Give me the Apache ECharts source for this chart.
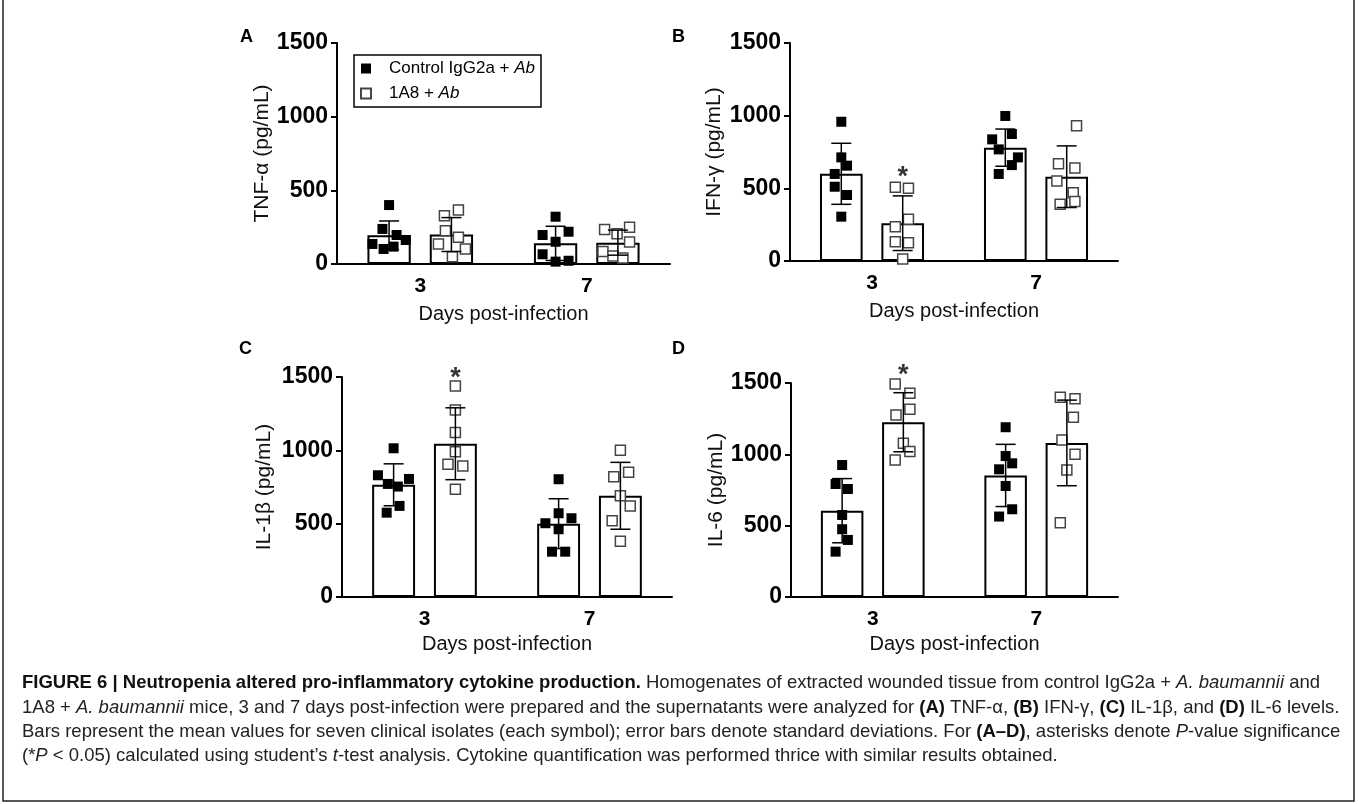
<!DOCTYPE html>
<html>
<head>
<meta charset="utf-8">
<script src="https://cdn.jsdelivr.net/npm/echarts@6/dist/echarts.min.js"></script>
<style>
html,body{margin:0;padding:0;background:#fff;}
#chart{width:1358px;height:804px;}
</style>
</head>
<body>
<div id="chart"></div>
<script>
// ---------------- DATA ----------------
const categories = ['3', '7'];
const groupNames = ['Control IgG2a + Ab', '1A8 + Ab'];
const yMin = 0, yMax = 1500, yStep = 500;
const axisTitles = ['TNF-α (pg/mL)', 'IFN-γ (pg/mL)', 'IL-1β (pg/mL)', 'IL-6 (pg/mL)'];
const xTitle = 'Days post-infection';
const panelLetters = ['A', 'B', 'C', 'D'];

// A: TNF-alpha
const tnfCtrlMean = [195, 140];
const tnfCtrlSD = [97, 116];
const tnf1a8Mean = [200, 145];
const tnf1a8SD = [115, 85];
const tnfCtrlPts = [[400, 238, 197, 136, 163, 102, 118], [321, 197, 219, 151, 66, 16, 22]];
const tnfCtrlJit = [[0, -0.04, 0.045, -0.1, 0.1, -0.033, 0.027], [0, -0.078, 0.078, 0, -0.078, 0, 0.078]];
const tnf1a8Pts = [[367, 328, 226, 181, 136, 102, 50], [235, 205, 250, 150, 84, 54, 40]];
const tnf1a8Jit = [[0.042, -0.042, -0.036, 0.042, -0.078, 0.084, 0.006], [-0.08, -0.005, 0.07, 0.07, -0.09, -0.03, 0.03]];
const tnfStars = [];

// B: IFN-gamma
const ifnCtrlMean = [600, 780];
const ifnCtrlSD = [210, 128];
const ifn1a8Mean = [260, 580];
const ifn1a8SD = [188, 212];
const ifnCtrlPts = [[958, 713, 656, 599, 511, 454, 305], [998, 874, 837, 768, 713, 660, 599]];
const ifnCtrlJit = [[0, 0, 0.035, -0.04, -0.04, 0.035, 0], [0, 0.04, -0.08, -0.04, 0.077, 0.04, -0.04]];
const ifn1a8Pts = [[507, 500, 287, 236, 133, 126, 14], [930, 670, 640, 550, 470, 390, 410]];
const ifn1a8Jit = [[-0.045, 0.035, 0.035, -0.045, -0.045, 0.035, 0], [0.06, -0.05, 0.05, -0.06, 0.04, -0.04, 0.05]];
const ifnStars = [[0, 614]];

// C: IL-1beta
const il1CtrlMean = [765, 500];
const il1CtrlSD = [143, 170];
const il11a8Mean = [1045, 690];
const il11a8SD = [245, 228];
const il1CtrlPts = [[1014, 830, 805, 771, 753, 621, 575], [803, 571, 503, 537, 462, 309, 309]];
const il1CtrlJit = [[0, -0.095, 0.093, -0.035, 0.026, 0.036, -0.042], [0, 0, -0.08, 0.078, 0, -0.04, 0.04]];
const il11a8Pts = [[1439, 1275, 1121, 991, 905, 893, 734], [1000, 850, 820, 690, 620, 520, 380]];
const il11a8Jit = [[0, 0, 0, 0, -0.045, 0.045, 0], [0, 0.05, -0.04, 0, 0.06, -0.05, 0]];
const il1Stars = [[0, 1528]];

// D: IL-6
const il6CtrlMean = [605, 852];
const il6CtrlSD = [225, 218];
const il61a8Mean = [1225, 1080];
const il61a8SD = [207, 300];
const il6CtrlPts = [[925, 792, 757, 575, 475, 400, 318], [1190, 988, 937, 895, 778, 615, 564]];
const il6CtrlJit = [[0, -0.04, 0.035, 0, 0, 0.035, -0.04], [0, 0, 0.04, -0.04, 0, 0.04, -0.04]];
const il61a8Pts = [[1493, 1428, 1316, 1276, 1077, 1019, 960], [1400, 1390, 1260, 1100, 1000, 890, 520]];
const il61a8Jit = [[-0.05, 0.04, 0.04, -0.045, 0, 0.04, -0.05], [-0.04, 0.05, 0.04, -0.03, 0.05, 0, -0.04]];
const il6Stars = [[0, 1591]];

const captionLines = [
  '{b|FIGURE 6 | Neutropenia altered pro-inflammatory cytokine production.} Homogenates of extracted wounded tissue from control IgG2a + {i|A. baumannii} and',
  '1A8 + {i|A. baumannii} mice, 3 and 7 days post-infection were prepared and the supernatants were analyzed for {b|(A)} TNF-α, {b|(B)} IFN-γ, {b|(C)} IL-1β, and {b|(D)} IL-6 levels.',
  'Bars represent the mean values for seven clinical isolates (each symbol); error bars denote standard deviations. For {b|(A–D)}, asterisks denote {i|P}-value significance',
  '(*{i|P} < 0.05) calculated using student\u2019s {i|t}-test analysis. Cytokine quantification was performed thrice with similar results obtained.'
];

// ---------------- LAYOUT ----------------
const FONT = '"Liberation Sans", Arial, Helvetica, sans-serif';
const CAP_FS = 18.5;
const panels = [
  {grid: {left: 337, top: 43, width: 333, height: 221}, nameGap: 59, xNameGap: 40, letter: [248, 38],
   cm: tnfCtrlMean, cs: tnfCtrlSD, tm: tnf1a8Mean, ts: tnf1a8SD, cp: tnfCtrlPts, cj: tnfCtrlJit, tp: tnf1a8Pts, tj: tnf1a8Jit, stars: tnfStars},
  {grid: {left: 790, top: 43, width: 328, height: 218}, nameGap: 65, xNameGap: 40, letter: [680, 38],
   cm: ifnCtrlMean, cs: ifnCtrlSD, tm: ifn1a8Mean, ts: ifn1a8SD, cp: ifnCtrlPts, cj: ifnCtrlJit, tp: ifn1a8Pts, tj: ifn1a8Jit, stars: ifnStars},
  {grid: {left: 342, top: 377, width: 330, height: 220}, nameGap: 67, xNameGap: 37, letter: [247, 350],
   cm: il1CtrlMean, cs: il1CtrlSD, tm: il11a8Mean, ts: il11a8SD, cp: il1CtrlPts, cj: il1CtrlJit, tp: il11a8Pts, tj: il11a8Jit, stars: il1Stars},
  {grid: {left: 791, top: 383, width: 327, height: 214}, nameGap: 61, xNameGap: 37, letter: [680, 350],
   cm: il6CtrlMean, cs: il6CtrlSD, tm: il61a8Mean, ts: il61a8SD, cp: il6CtrlPts, cj: il6CtrlJit, tp: il61a8Pts, tj: il61a8Jit, stars: il6Stars}
];
const BAR_W = 0.26, BAR_GAP = 0.44;
const OFF = BAR_W * (1 + BAR_GAP) / 2; // centre offset of each bar in band units

const grids = [], xAxes = [], yAxes = [], series = [], graphics = [];

panels.forEach((p, k) => {
  grids.push(p.grid);
  xAxes.push({
    type: 'category', gridIndex: k, data: categories, boundaryGap: true,
    name: xTitle, nameLocation: 'middle', nameGap: p.xNameGap,
    nameTextStyle: {fontFamily: FONT, fontSize: 20, color: '#111'},
    axisLine: {lineStyle: {color: '#000', width: 2}},
    axisTick: {alignWithLabel: true, length: 6, lineStyle: {color: '#000', width: 2}},
    axisLabel: {fontFamily: FONT, fontSize: 21, fontWeight: 'bold', color: '#000', margin: 12},
    splitLine: {show: false}
  });
  xAxes.push({type: 'value', gridIndex: k, min: 0, max: 2, show: false});
  yAxes.push({
    type: 'value', gridIndex: k, min: yMin, max: yMax, interval: yStep,
    name: axisTitles[k], nameLocation: 'middle', nameGap: p.nameGap, nameRotate: 90,
    nameTextStyle: {fontFamily: FONT, fontSize: 21, color: '#111'},
    axisLine: {show: true, lineStyle: {color: '#000', width: 2}},
    axisTick: {show: true, length: 6, lineStyle: {color: '#000', width: 2}},
    axisLabel: {fontFamily: FONT, fontSize: 23, fontWeight: 'bold', color: '#000', margin: 9,
      formatter: v => String(v)},
    splitLine: {show: false}
  });
  const xCat = 2 * k, xVal = 2 * k + 1;
  // bars
  [[p.cm, 0], [p.tm, 1]].forEach(([m, gi]) => {
    series.push({
      type: 'bar', name: groupNames[gi] + ' bar', xAxisIndex: xCat, yAxisIndex: k, data: m,
      barWidth: (BAR_W * 100) + '%', barGap: (BAR_GAP * 100) + '%', z: 2,
      itemStyle: {color: '#fff', borderColor: '#000', borderWidth: 2}, silent: true
    });
  });
  // points
  const pts = (vals, jit, side) => {
    const out = [];
    vals.forEach((arr, g) => arr.forEach((v, i) => out.push([g + 0.5 + side * OFF + jit[g][i], v])));
    return out;
  };
  series.push({
    type: 'scatter', name: groupNames[0], xAxisIndex: xVal, yAxisIndex: k, z: 3,
    symbol: 'rect', symbolSize: 10, data: pts(p.cp, p.cj, -1),
    itemStyle: {color: '#000', opacity: 1}
  });
  series.push({
    type: 'scatter', name: groupNames[1], xAxisIndex: xVal, yAxisIndex: k, z: 3,
    symbol: 'rect', symbolSize: 10, data: pts(p.tp, p.tj, 1),
    itemStyle: {color: '#fff', borderColor: '#444', borderWidth: 1.5, opacity: 1}
  });
  // error bars
  const eb = [];
  [0, 1].forEach(g => {
    eb.push([g + 0.5 - OFF, p.cm[g], p.cs[g]]);
    eb.push([g + 0.5 + OFF, p.tm[g], p.ts[g]]);
  });
  series.push({
    type: 'custom', xAxisIndex: xVal, yAxisIndex: k, z: 4, silent: true,
    encode: {x: 0, y: 1}, data: eb,
    renderItem: (params, api) => {
      const x = api.value(0), m = api.value(1), s = api.value(2);
      const t = api.coord([x, m + s]), b = api.coord([x, m - s]);
      const c = 10, st = {stroke: '#000', lineWidth: 1.5};
      return {type: 'group', children: [
        {type: 'line', shape: {x1: t[0], y1: t[1], x2: b[0], y2: b[1]}, style: st},
        {type: 'line', shape: {x1: t[0] - c, y1: t[1], x2: t[0] + c, y2: t[1]}, style: st},
        {type: 'line', shape: {x1: b[0] - c, y1: b[1], x2: b[0] + c, y2: b[1]}, style: st}
      ]};
    }
  });
  // significance asterisks
  if (p.stars.length) {
    series.push({
      type: 'scatter', xAxisIndex: xVal, yAxisIndex: k, z: 5, clip: false, silent: true,
      symbolSize: 1, itemStyle: {color: 'rgba(0,0,0,0)'},
      data: p.stars.map(s => [s[0] + 0.5 + OFF, s[1]]),
      label: {show: true, position: 'inside', formatter: '*', offset: [0, 6],
        fontFamily: FONT, fontSize: 27, fontWeight: 'bold', color: '#000'}
    });
  }
  graphics.push({type: 'text', left: p.letter[0] - 8, top: p.letter[1] - 10,
    style: {text: panelLetters[k], font: 'bold 18px ' + FONT, fill: '#000'}});
});

// caption
const capY = [683, 708, 732, 756];
captionLines.forEach((t, i) => {
  graphics.push({type: 'text', x: 22, y: capY[i],
    style: {text: t, fontFamily: FONT, fontSize: CAP_FS, fill: '#222', verticalAlign: 'middle',
      rich: {
        b: {fontFamily: FONT, fontSize: CAP_FS, fontWeight: 'bold', fill: '#111'},
        i: {fontFamily: FONT, fontSize: CAP_FS, fontStyle: 'italic', fill: '#222'}
      }}});
});
// frame
graphics.push({type: 'rect', shape: {x: 3, y: -5, width: 1351, height: 806},
  style: {fill: 'none', stroke: '#222', lineWidth: 1.5}, silent: true});

const chart = echarts.init(document.getElementById('chart'), null, {renderer: 'canvas'});
chart.setOption({
  animation: false,
  backgroundColor: '#fff',
  grid: grids,
  xAxis: xAxes,
  yAxis: yAxes,
  legend: {
    data: groupNames, orient: 'vertical', left: 354, top: 55,
    icon: 'rect', itemWidth: 10, itemHeight: 10, itemGap: 8,
    borderColor: '#000', borderWidth: 1.5, padding: [5, 6, 5, 6],
    selectedMode: false,
    formatter: name => '{s|}{n|' + name.replace(' Ab', ' ') + '}{it|Ab}',
    textStyle: {fontFamily: FONT, fontSize: 17, color: '#000',
      rich: {s: {width: 13}, n: {fontFamily: FONT, fontSize: 17, color: '#000'},
        it: {fontFamily: FONT, fontSize: 17, fontStyle: 'italic', color: '#000'}}}
  },
  series: series,
  graphic: graphics
});
</script>
</body>
</html>
